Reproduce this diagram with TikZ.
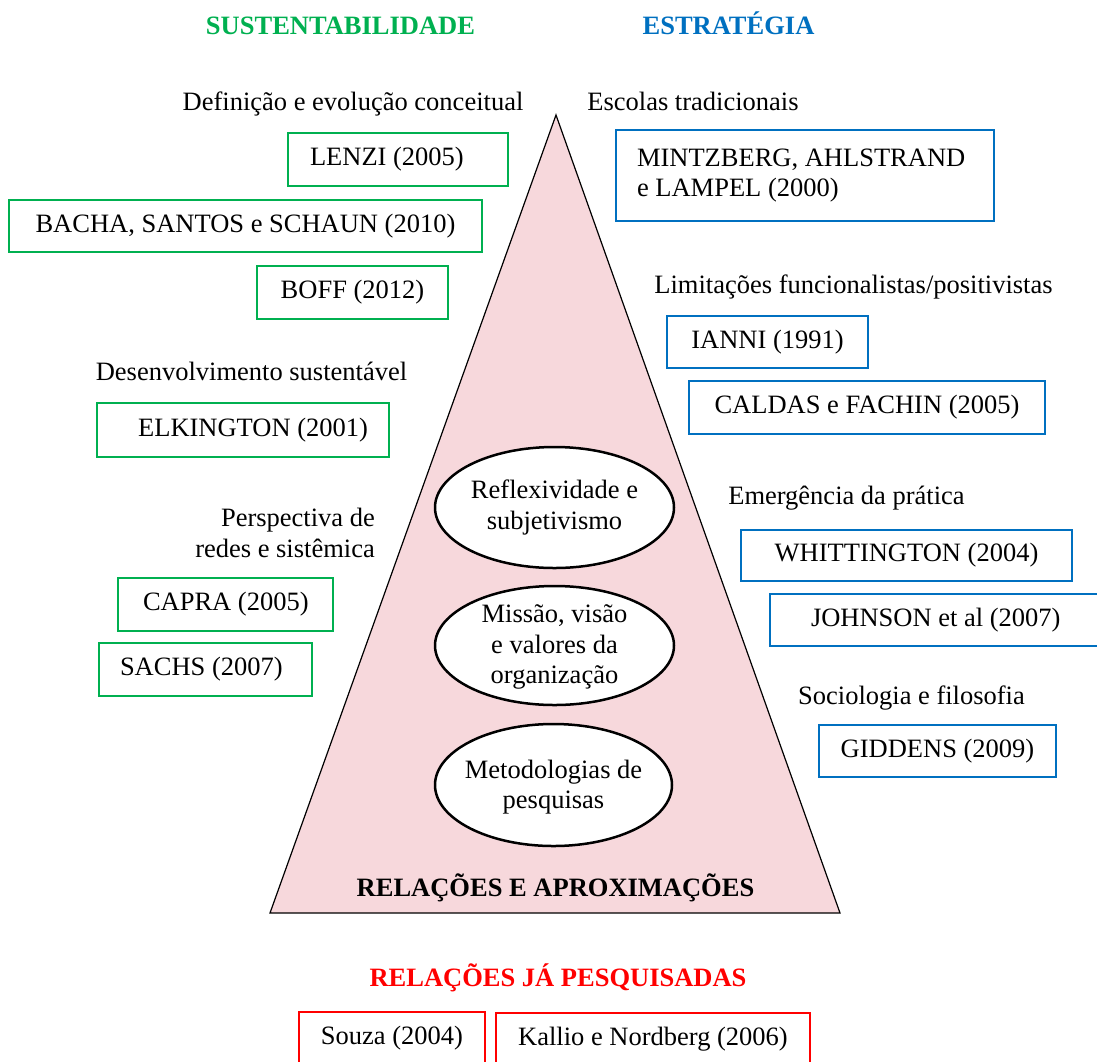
\documentclass[tikz,border=0pt]{standalone}
\usepackage{fontspec}
\setmainfont{Liberation Serif}

\definecolor{susgreen}{RGB}{0,176,80}
\definecolor{estblue}{RGB}{0,112,192}
\definecolor{relred}{RGB}{255,0,0}
\definecolor{pyrpink}{RGB}{247,216,220}

% reference text set flush left or right inside a fixed-width slot
\newcommand{\slotl}[2]{\makebox[#1pt][l]{#2}}
\newcommand{\slotr}[2]{\makebox[#1pt][r]{#2}}

\begin{document}
\begin{tikzpicture}[x=1pt,y=-1pt,
  every node/.style={font=\fontsize{26.5}{30.5}\selectfont, inner sep=0pt},
  lbl/.style={anchor=base},
  title/.style={anchor=base, font=\fontsize{26.5}{30.5}\selectfont\bfseries},
  refbox/.style={draw, line width=2.5pt, fill=white, inner sep=0pt},
  gbox/.style={refbox, draw=susgreen},
  bbox/.style={refbox, draw=estblue},
  rbox/.style={refbox, draw=relred},
  themeline/.style={draw, line width=2.5pt, fill=white},
  themetext/.style={align=center}
]
\useasboundingbox (0,0) rectangle (1097,1061);
\clip (0,0) rectangle (1097,1061);

% pyramid
\coordinate (apex) at (556,115);
\coordinate (bl) at (270,913);
\coordinate (br) at (840,913);
\draw[fill=pyrpink, line width=1.2pt, line join=miter] (apex) -- (br) -- (bl) -- cycle;

% column titles
\node[title, text=susgreen] (tsus) at (340.5,34) {SUSTENTABILIDADE};
\node[title, text=estblue] (test) at (728.5,34) {ESTRATÉGIA};

% sustainability side
\node[lbl] (ldef) at (353,110) {Definição e evolução conceitual};
\node[gbox, minimum height=53pt, minimum width=220pt] (lenzi) at (398,159.5) {\slotl{176}{LENZI (2005)}};
\node[gbox, minimum height=52pt, minimum width=473pt] (bacha) at (245.5,226) {BACHA, SANTOS e SCHAUN (2010)};
\node[gbox, minimum height=53pt, minimum width=191pt] (boff) at (352.5,292.5) {BOFF (2012)};

\node[lbl] (ldes) at (251.5,380) {Desenvolvimento sustentável};
\node[gbox, minimum height=54pt, minimum width=292pt] (elk) at (243,430) {\slotr{250}{ELKINGTON (2001)}};

\node[align=right, anchor=east] (lper) at (375,533) {Perspectiva de\\redes e sistêmica};
\node[gbox, minimum height=53pt, minimum width=215pt] (capra) at (225.5,604.5) {\slotl{165}{CAPRA (2005)}};
\node[gbox, minimum height=53pt, minimum width=213pt] (sachs) at (205.5,669.5) {\slotl{171}{SACHS (2007)}};

% strategy side
\node[lbl] (lesc) at (693,110) {Escolas tradicionais};
\node[bbox, minimum height=91pt, minimum width=378pt, align=left] (mintz) at (805,175.5) {\slotl{336}{MINTZBERG, AHLSTRAND}\\\slotl{336}{e LAMPEL (2000)}};

\node[lbl] (llim) at (853.5,293) {Limitações funcionalistas/positivistas};
\node[bbox, minimum height=52pt, minimum width=201pt] (ianni) at (767.5,342) {IANNI (1991)};
\node[bbox, minimum height=53pt, minimum width=356pt] (caldas) at (867,407.5) {CALDAS e FACHIN (2005)};

\node[lbl] (lemg) at (846.5,504) {Emergência da prática};
\node[bbox, minimum height=51pt, minimum width=331pt] (whit) at (906.5,555.5) {WHITTINGTON (2004)};
\node[bbox, minimum height=52pt, minimum width=342pt] (john) at (941,620) {\slotl{260}{JOHNSON et al (2007)}};

\node[lbl] (lsoc) at (911.5,704) {Sociologia e filosofia};
\node[bbox, minimum height=52pt, minimum width=237pt] (gidd) at (937.5,751) {GIDDENS (2009)};

% themes inside the pyramid
\path[themeline] (554.5,507.5) ellipse [x radius=119.5pt, y radius=60.5pt];
\node[themetext] (refl) at (554.5,507.5) {Reflexividade e\\subjetivismo};
\path[themeline] (554.5,645.5) ellipse [x radius=119.5pt, y radius=59.5pt];
\node[themetext] (miss) at (554.5,647) {Missão, visão\\e valores da\\organização};
\path[themeline] (553.5,785) ellipse [x radius=118.5pt, y radius=61pt];
\node[themetext] (meto) at (553.5,787) {Metodologias de\\pesquisas};

\node[title] (rel) at (555.5,896) {RELAÇÕES E APROXIMAÇÕES};

% already researched relations
\node[title, text=relred] (trel) at (558,986) {RELAÇÕES JÁ PESQUISADAS};
\node[rbox, minimum height=53pt, minimum width=186pt] (souza) at (392,1038.5) {Souza (2004)};
\node[rbox, minimum height=53pt, minimum width=314pt] (kallio) at (653,1039.5) {Kallio e Nordberg (2006)};
\end{tikzpicture}
\end{document}
